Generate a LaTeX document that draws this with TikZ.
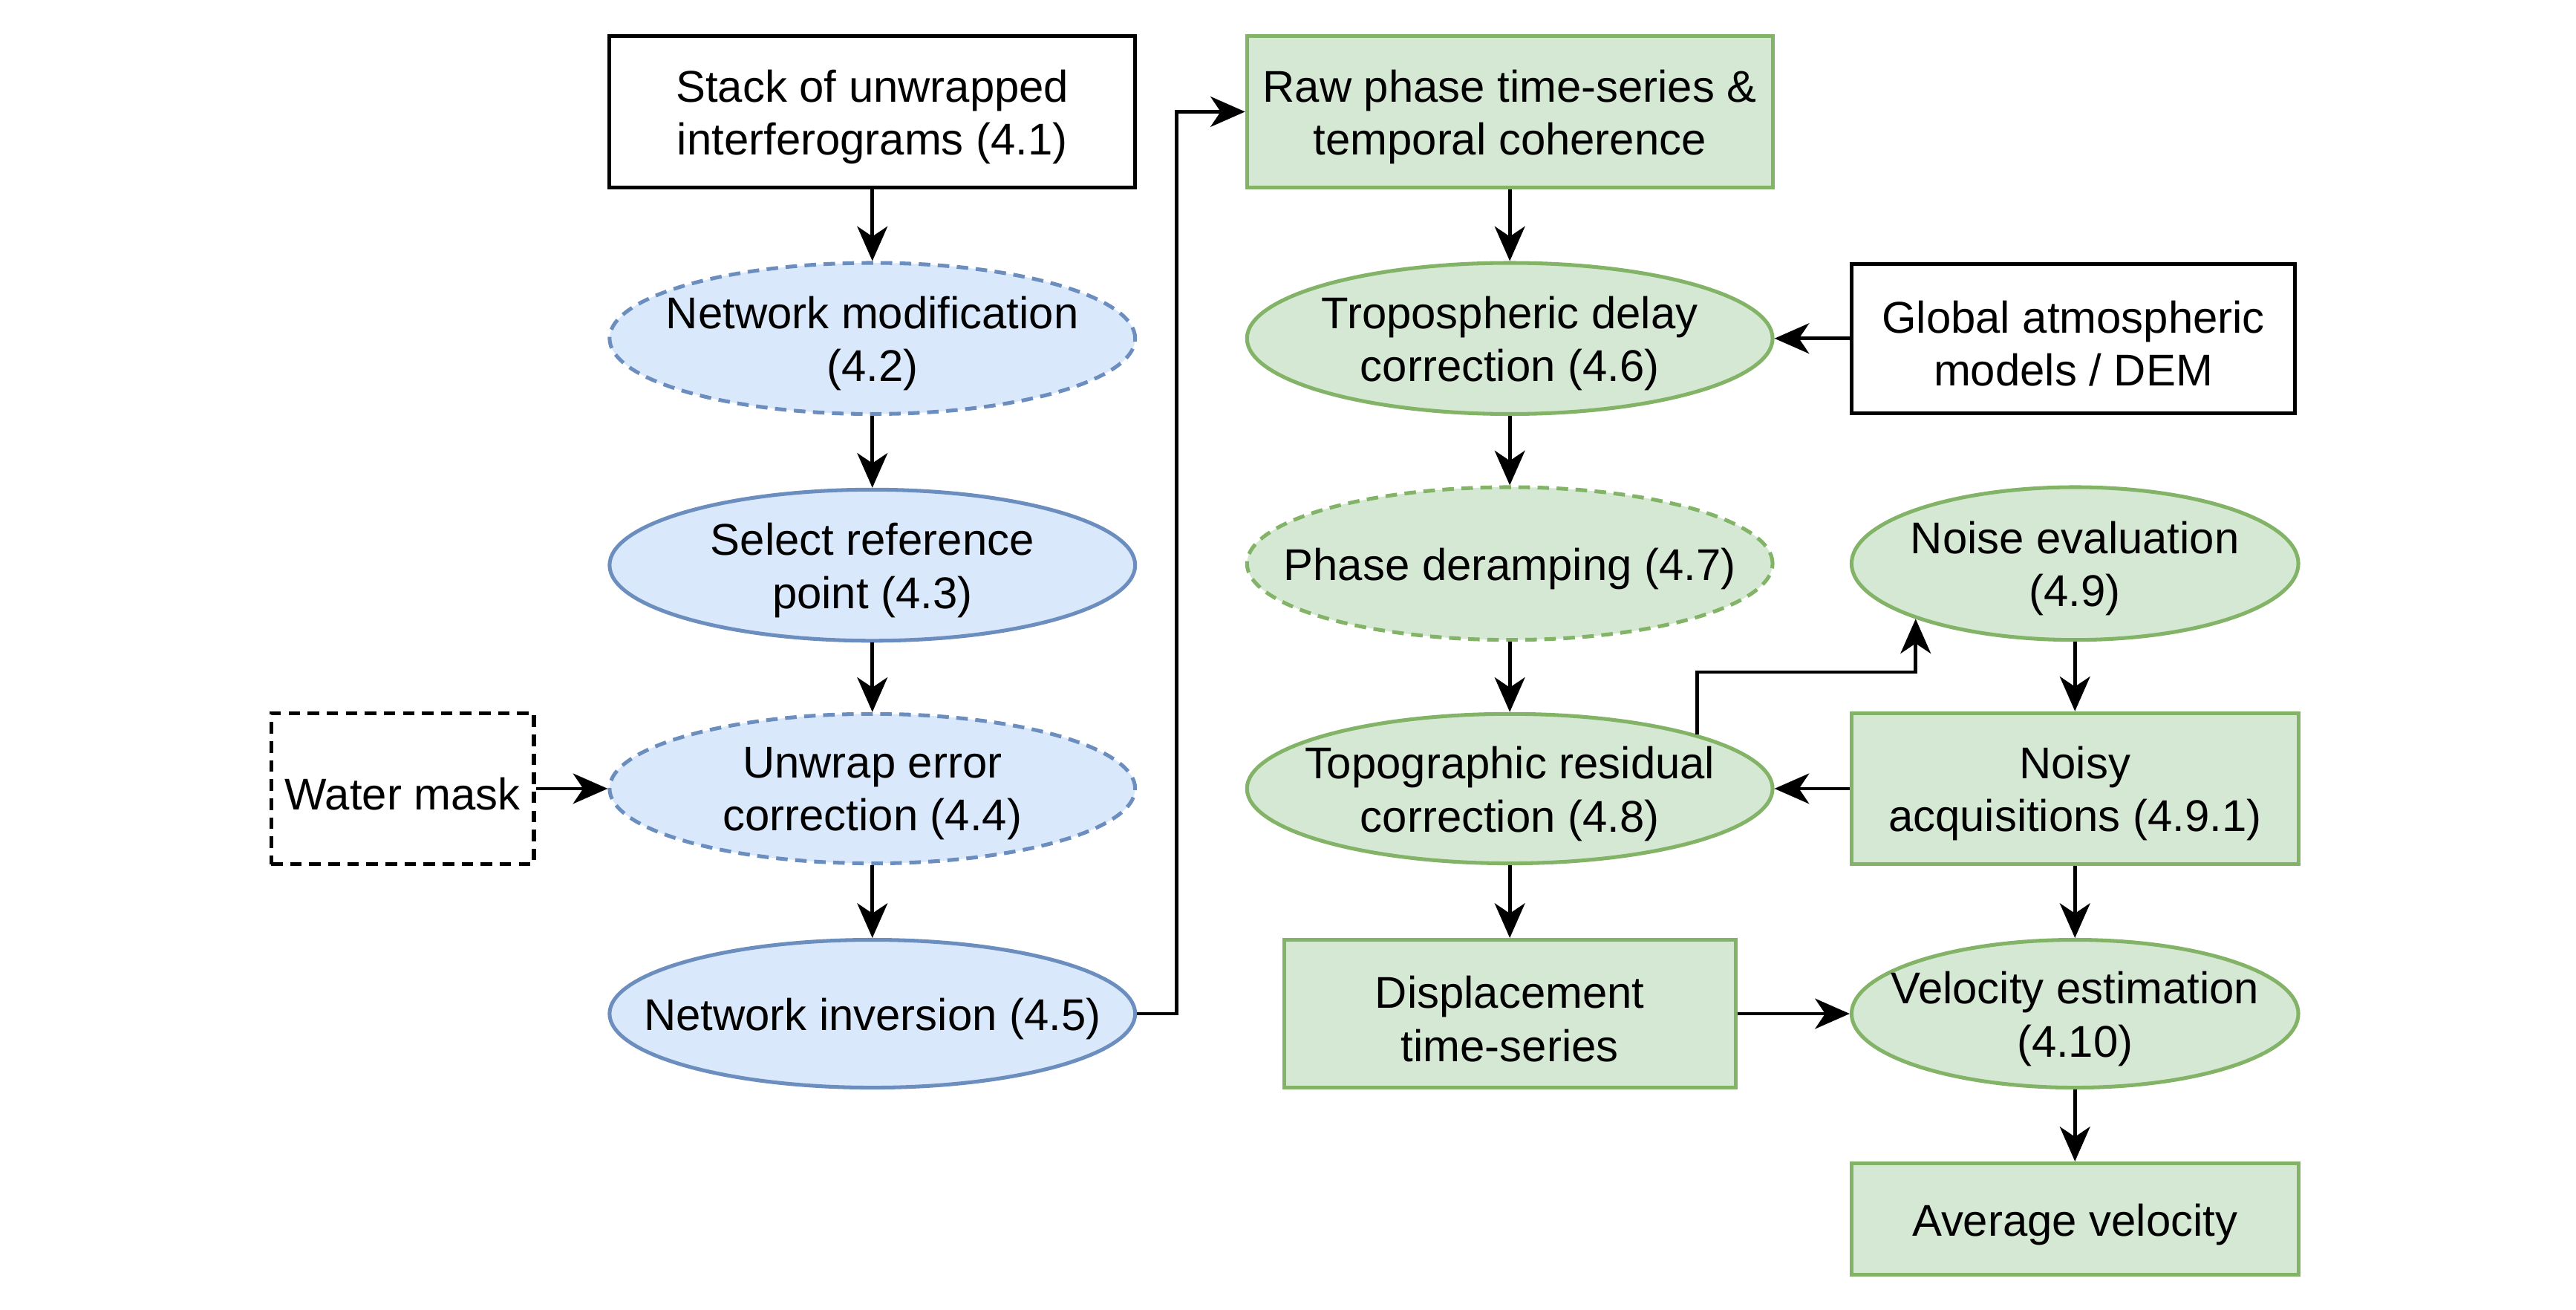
\documentclass[tikz,border=0pt]{standalone}
\usepackage{fontspec}
\setmainfont{Liberation Sans}
\usetikzlibrary{shapes.geometric,arrows.meta}
\definecolor{bluefill}{HTML}{DAE8FC}
\definecolor{bluedraw}{HTML}{6C8EBF}
\definecolor{greenfill}{HTML}{D5E8D4}
\definecolor{greendraw}{HTML}{82B366}
\tikzset{
  base/.style={inner sep=0pt, line width=1.3pt},
  box/.style={base, rectangle, minimum width=#1},
  box/.default=6.4cm,
  oval/.style={base, ellipse, minimum width=#1},
  oval/.default=6.4cm,
  txt/.style={inner sep=0pt, align=center, yshift=-1.8pt, font=\fontsize{15.4}{18.3}\selectfont},
  bluest/.style={draw=bluedraw, fill=bluefill},
  greenst/.style={draw=greendraw, fill=greenfill},
  blackst/.style={draw=black, fill=white},
  dsh/.style={dash pattern=on 4pt off 2.6pt},
  conn/.style={line width=1.2pt, -{Stealth[length=12pt,width=10.5pt,inset=3.5pt]}},
}
\begin{document}
\begin{tikzpicture}[x=0.02cm, y=-0.02cm]
\useasboundingbox (0,0) rectangle (1568,797);
% left column
\node[box, blackst, minimum height=1.84cm] (stack) at (531,68) {};
\node[txt] (stack-t) at (stack) {Stack of unwrapped\\interferograms (4.1)};
\node[oval, bluest, dsh, minimum height=1.84cm] (netmod) at (531,206) {};
\node[txt] (netmod-t) at (netmod) {Network modification\\(4.2)};
\node[oval, bluest, minimum height=1.84cm] (selref) at (531,344) {};
\node[txt] (selref-t) at (selref) {Select reference\\point (4.3)};
\node[oval, bluest, dsh, minimum height=1.82cm] (unwrap) at (531,480) {};
\node[txt] (unwrap-t) at (unwrap) {Unwrap error\\correction (4.4)};
\node[oval, bluest, minimum height=1.8cm] (netinv) at (531,617) {};
\node[txt] (netinv-t) at (netinv) {Network inversion (4.5)};
\node[box=3.2cm, blackst, dsh, minimum height=1.84cm] (water) at (245,480) {};
\node[txt] (water-t) at (water) {Water mask};
% middle column
\node[box, greenst, minimum height=1.84cm] (raw) at (919,68) {};
\node[txt] (raw-t) at (raw) {Raw phase time-series \&\\temporal coherence};
\node[oval, greenst, minimum height=1.84cm] (tropo) at (919,206) {};
\node[txt] (tropo-t) at (tropo) {Tropospheric delay\\correction (4.6)};
\node[oval, greenst, dsh, minimum height=1.86cm] (deramp) at (919,343) {};
\node[txt] (deramp-t) at (deramp) {Phase deramping (4.7)};
\node[oval, greenst, minimum height=1.82cm] (topo) at (919,480) {};
\node[txt] (topo-t) at (topo) {Topographic residual\\correction (4.8)};
\node[box=5.5cm, greenst, minimum height=1.8cm] (disp) at (919,617) {};
\node[txt] (disp-t) at (disp) {Displacement\\time-series};
% right column
\node[box=5.4cm, blackst, minimum height=1.82cm] (global) at (1262,206) {};
\node[txt] (global-t) at (global) {Global atmospheric\\models / DEM};
\node[oval=5.44cm, greenst, minimum height=1.86cm] (noise) at (1263,343) {};
\node[txt] (noise-t) at (noise) {Noise evaluation\\(4.9)};
\node[box=5.44cm, greenst, minimum height=1.84cm] (noisy) at (1263,480) {};
\node[txt] (noisy-t) at (noisy) {Noisy\\acquisitions (4.9.1)};
\node[oval=5.44cm, greenst, minimum height=1.8cm] (vel) at (1263,617) {};
\node[txt] (vel-t) at (vel) {Velocity estimation\\(4.10)};
\node[box=5.44cm, greenst, minimum height=1.36cm] (avg) at (1263,742) {};
\node[txt] (avg-t) at (avg) {Average velocity};
% connectors
\draw[conn] (stack) -- (netmod);
\draw[conn] (netmod) -- (selref);
\draw[conn] (selref) -- (unwrap);
\draw[conn] (unwrap) -- (netinv);
\draw[conn] (water.east) -- (unwrap.west);
\draw[conn] (netinv.east) -- ++(24,0) |- (raw.west);
\draw[conn] (raw) -- (tropo);
\draw[conn] (global.west) -- (tropo.east);
\draw[conn] (tropo) -- (deramp);
\draw[conn] (deramp) -- (topo);
\draw[conn] (topo.north east) -- ++(0,-38) -| (noise.south west);
\draw[conn] (noise) -- (noisy);
\draw[conn] (noisy.west) -- (topo.east);
\draw[conn] (noisy) -- (vel);
\draw[conn] (topo) -- (disp);
\draw[conn] (disp.east) -- (vel.west);
\draw[conn] (vel) -- (avg);
\end{tikzpicture}
\end{document}
